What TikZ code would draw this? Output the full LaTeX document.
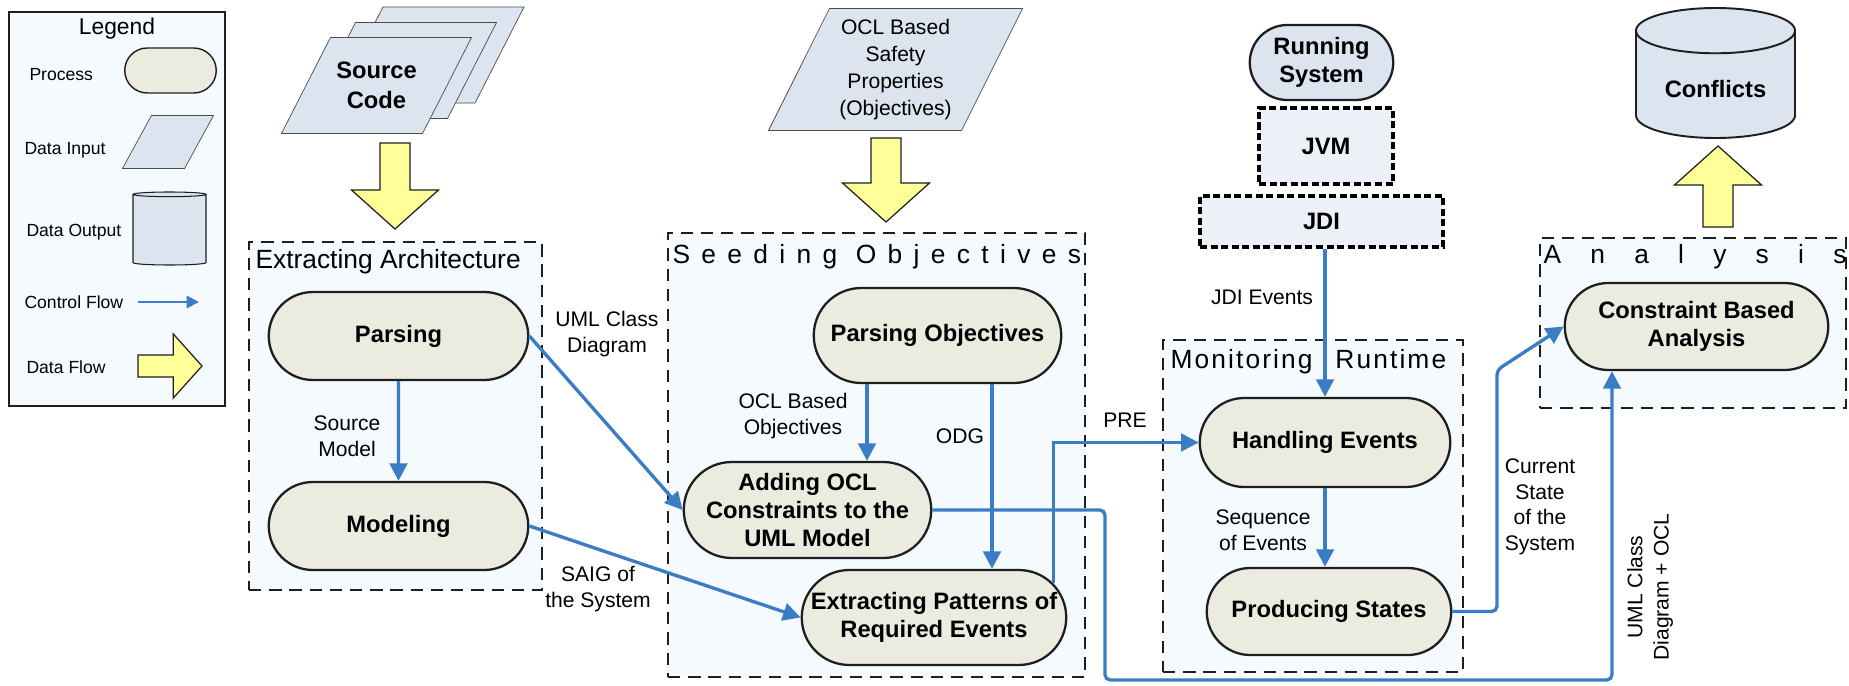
\documentclass[tikz,border=0pt]{standalone}
\usepackage{fontspec}
\setmainfont{Liberation Sans}
\usetikzlibrary{arrows.meta, positioning, shapes.geometric, shapes.misc, calc, backgrounds}
\definecolor{cflow}{HTML}{3B7DC4}
\definecolor{cproc}{HTML}{ECEBE0}
\definecolor{cdata}{HTML}{DCE4F0}
\definecolor{cvm}{HTML}{EDF0F7}
\definecolor{cstage}{HTML}{F5FAFE}
\definecolor{cyellow}{HTML}{FFFF99}
\definecolor{cedge}{HTML}{1E1E1E}
\tikzset{
  every picture/.style={line width=0.6pt},
  proc/.style={rounded rectangle, draw=cedge, fill=#1, line width=1.3pt, align=center, inner sep=1pt, font=\fontsize{13.5}{16}\selectfont\bfseries},
  proc/.default=cproc,
  datain/.style={rectangle, align=center, inner sep=0pt},
  slab/.style={draw=cedge!80, fill=cdata},
  dataout/.style={cylinder, shape border rotate=90, aspect=0.4, anchor=shape center, draw=cedge, line width=1.1pt, fill=cdata, font=\fontsize{13.5}{16}\selectfont\bfseries},
  stage/.style={draw=cedge, line width=1pt, dash pattern=on 7pt off 4.5pt, fill=cstage},
  stagetitle/.style={anchor=base west, inner sep=0pt, font=\fontsize{15}{18}\selectfont},
  vm/.style={draw=black, line width=1.8pt, dash pattern=on 4pt off 2pt, fill=cvm, font=\fontsize{13.5}{16}\selectfont\bfseries},
  flow/.style={-{Triangle[length=10pt, width=10pt]}, draw=cflow, line width=1.9pt},
  lbl/.style={align=center, inner sep=0pt, font=\fontsize{12}{15}\selectfont},
  key/.style={anchor=west, inner sep=0pt, font=\fontsize{10}{12}\selectfont},
  bigflow/.pic={\draw[draw=cedge, fill=cyellow, line width=0.7pt] (0,-0.3) -- (#1,-0.3) -- (#1,-0.87) -- (#1+0.78,0) -- (#1,0.87) -- (#1,0.3) -- (0,0.3) -- cycle;},
}
% slanted data input sheet behind a node: #1 node, #2 half of the slant
\newcommand{\dataslab}[2]{%
  \begin{scope}[on background layer]
    \draw[slab] ([xshift=-#2]#1.south west) -- ([xshift=-#2]#1.south east) -- ([xshift=#2]#1.north east) -- ([xshift=#2]#1.north west) -- cycle;
  \end{scope}}

\begin{document}
\begin{tikzpicture}
  \useasboundingbox (0,0) rectangle (36.98,13.70);
  % legend
  \begin{scope}[on background layer]
    \node[draw=cedge, line width=1pt, fill=cstage, minimum width=4.32cm, minimum height=7.88cm] (legend) at (2.34,9.52) {};
  \end{scope}
  \node[font=\fontsize{13}{15}\selectfont, inner sep=0pt] (legendtitle) at (2.34,13.12) {Legend};
  \node[key] (kproc) at (0.58,12.20) {Process};
  \node[proc, line width=0.8pt, minimum width=1.9cm, minimum height=0.9cm] (lproc) at (3.41,12.29) {};
  \node[key] (kin) at (0.48,10.70) {Data Input};
  \node[datain, minimum width=1.22cm, minimum height=1.04cm] (lin) at (3.36,10.86) {};
  \dataslab{lin}{0.29cm}
  \node[key] (kout) at (0.52,9.06) {Data Output};
  \node[dataout, line width=0.6pt, minimum width=1.46cm, minimum height=1.46cm] (lout) at (3.39,9.13) {};
  \node[key] (kctrl) at (0.48,7.66) {Control Flow};
  \coordinate (lctrla) at (2.76,7.66);
  \coordinate (lctrlb) at (3.98,7.66);
  \draw[flow, line width=1.1pt, -{Triangle[length=7pt, width=7pt]}] (lctrla) -- (lctrlb);
  \node[key] (kdata) at (0.52,6.36) {Data Flow};
  \pic[scale=0.74] at (2.76,6.38) {bigflow=0.95};

  % inputs
  \node[datain, minimum width=2.80cm, minimum height=1.9cm] (src3) at (8.58,12.60) {};
  \dataslab{src3}{0.49cm}
  \node[datain, minimum width=2.80cm, minimum height=1.9cm] (src2) at (8.03,12.29) {};
  \dataslab{src2}{0.49cm}
  \node[datain, minimum width=2.80cm, minimum height=1.9cm, font=\fontsize{13.5}{17}\selectfont\bfseries] (src) at (7.53,11.99) {Source\\Code};
  \dataslab{src}{0.49cm}
  \node[datain, minimum width=3.84cm, minimum height=2.42cm, font=\fontsize{12}{15.5}\selectfont] (ocl) at (17.91,12.31) {OCL Based\\Safety\\Properties\\(Objectives)};
  \dataslab{ocl}{0.61cm}
  \pic[rotate=-90] at (7.90,10.84) {bigflow=0.94};
  \pic[rotate=-90] at (17.72,10.94) {bigflow=0.90};

  % extracting architecture
  \node[stage, minimum width=5.86cm, minimum height=6.96cm] (arch) at (7.91,5.38) {};
  \node[stagetitle] (archtitle) at (5.10,8.34) {Extracting Architecture};
  \node[proc, minimum width=5.26cm, minimum height=1.76cm] (parse) at (7.97,6.98) {Parsing};
  \node[proc, minimum width=5.26cm, minimum height=1.76cm] (model) at (7.97,3.18) {Modeling};

  % seeding objectives
  \node[stage, minimum width=8.34cm, minimum height=8.88cm] (seed) at (17.53,4.60) {};
  \node[stagetitle, font=\fontsize{15}{18}\selectfont\addfontfeature{LetterSpace=43}] (seedtitle) at (13.44,8.44) {Seeding Objectives};
  \node[proc, minimum width=5.02cm, minimum height=1.9cm] (pobj) at (18.75,6.99) {Parsing Objectives};
  \node[proc, minimum width=5.02cm, minimum height=1.92cm] (addocl) at (16.15,3.50) {Adding OCL\\Constraints to the\\UML Model};
  \node[proc, minimum width=5.36cm, minimum height=1.9cm] (expat) at (18.68,1.35) {Extracting Patterns of\\Required Events};

  % running system
  \node[proc=cdata, minimum width=2.94cm, minimum height=1.5cm] (run) at (26.43,12.45) {Running\\System};
  \node[vm, minimum width=2.68cm, minimum height=1.52cm] (jvm) at (26.52,10.78) {JVM};
  \node[vm, minimum width=4.86cm, minimum height=1.02cm] (jdi) at (26.43,9.27) {JDI};

  % monitoring runtime
  \node[stage, minimum width=6.00cm, minimum height=6.64cm] (mon) at (26.26,3.58) {};
  \node[stagetitle, font=\fontsize{15}{18}\selectfont\addfontfeature{LetterSpace=8}] (montitle) at (23.40,6.34) {Monitoring\hspace{13pt}Runtime};
  \node[proc, minimum width=5.08cm, minimum height=1.78cm] (handle) at (26.50,4.85) {Handling Events};
  \node[proc, minimum width=4.96cm, minimum height=1.74cm] (prod) at (26.58,1.47) {Producing States};

  % analysis
  \node[stage, minimum width=6.12cm, minimum height=3.40cm] (ana) at (33.86,7.24) {};
  \node[stagetitle, font=\fontsize{15}{18}\selectfont\addfontfeature{LetterSpace=111}] (anatitle) at (30.86,8.44) {Analysis};
  \node[proc, minimum width=5.34cm, minimum height=1.74cm] (cba) at (33.93,7.17) {Constraint Based\\Analysis};
  \node[dataout, minimum width=3.18cm, minimum height=2.6cm] (conf) at (34.31,12.24) {Conflicts};
  \pic[rotate=90] at (34.36,9.16) {bigflow=0.84};

  % control flow
  \coordinate (statebend) at (29.94,6.30);
  \coordinate (lowbend) at (22.10,0.10);
  \draw[flow] (parse) -- (model);
  \draw[flow] (parse.east) -- (addocl.west);
  \draw[flow] (model.east) -- (expat.west);
  \draw[flow] ([xshift=-1.41cm]pobj.south) -- ([xshift=-1.41cm]pobj.south |- addocl.north);
  \draw[flow] ([xshift=1.09cm]pobj.south) -- ([xshift=1.09cm]pobj.south |- expat.north);
  \draw[flow] (expat.16) |- (handle.west);
  \draw[flow] (handle.north |- jdi.south) -- (handle.north);
  \draw[flow] (handle.south) -- (handle.south |- prod.north);
  \draw[flow, rounded corners=3pt] (prod.east) -| (statebend) -- (cba.west);
  \draw[flow, rounded corners=3pt] (addocl.east) -| (lowbend) -| ([xshift=-1.69cm]cba.south);

  % labels
  \node[lbl] (lsrcmodel) at (6.94,4.98) {Source\\Model};
  \node[lbl] (luml) at (12.14,7.02) {UML Class\\Diagram};
  \node[lbl] (lsaig) at (11.96,1.92) {SAIG of\\the System};
  \node[lbl] (loclobj) at (15.86,5.38) {OCL Based\\Objectives};
  \node[lbl] (lodg) at (19.20,4.98) {ODG};
  \node[lbl] (lpre) at (22.50,5.30) {PRE};
  \node[lbl] (ljdi) at (25.24,7.76) {JDI Events};
  \node[lbl] (lseq) at (25.26,3.10) {Sequence\\of Events};
  \node[lbl, font=\fontsize{12}{14.5}\selectfont] (lstate) at (30.80,3.56) {Current\\State\\of the\\System};
  \node[lbl, rotate=90] (lumlocl) at (33.00,1.96) {UML Class\\Diagram + OCL};
\end{tikzpicture}
\end{document}
